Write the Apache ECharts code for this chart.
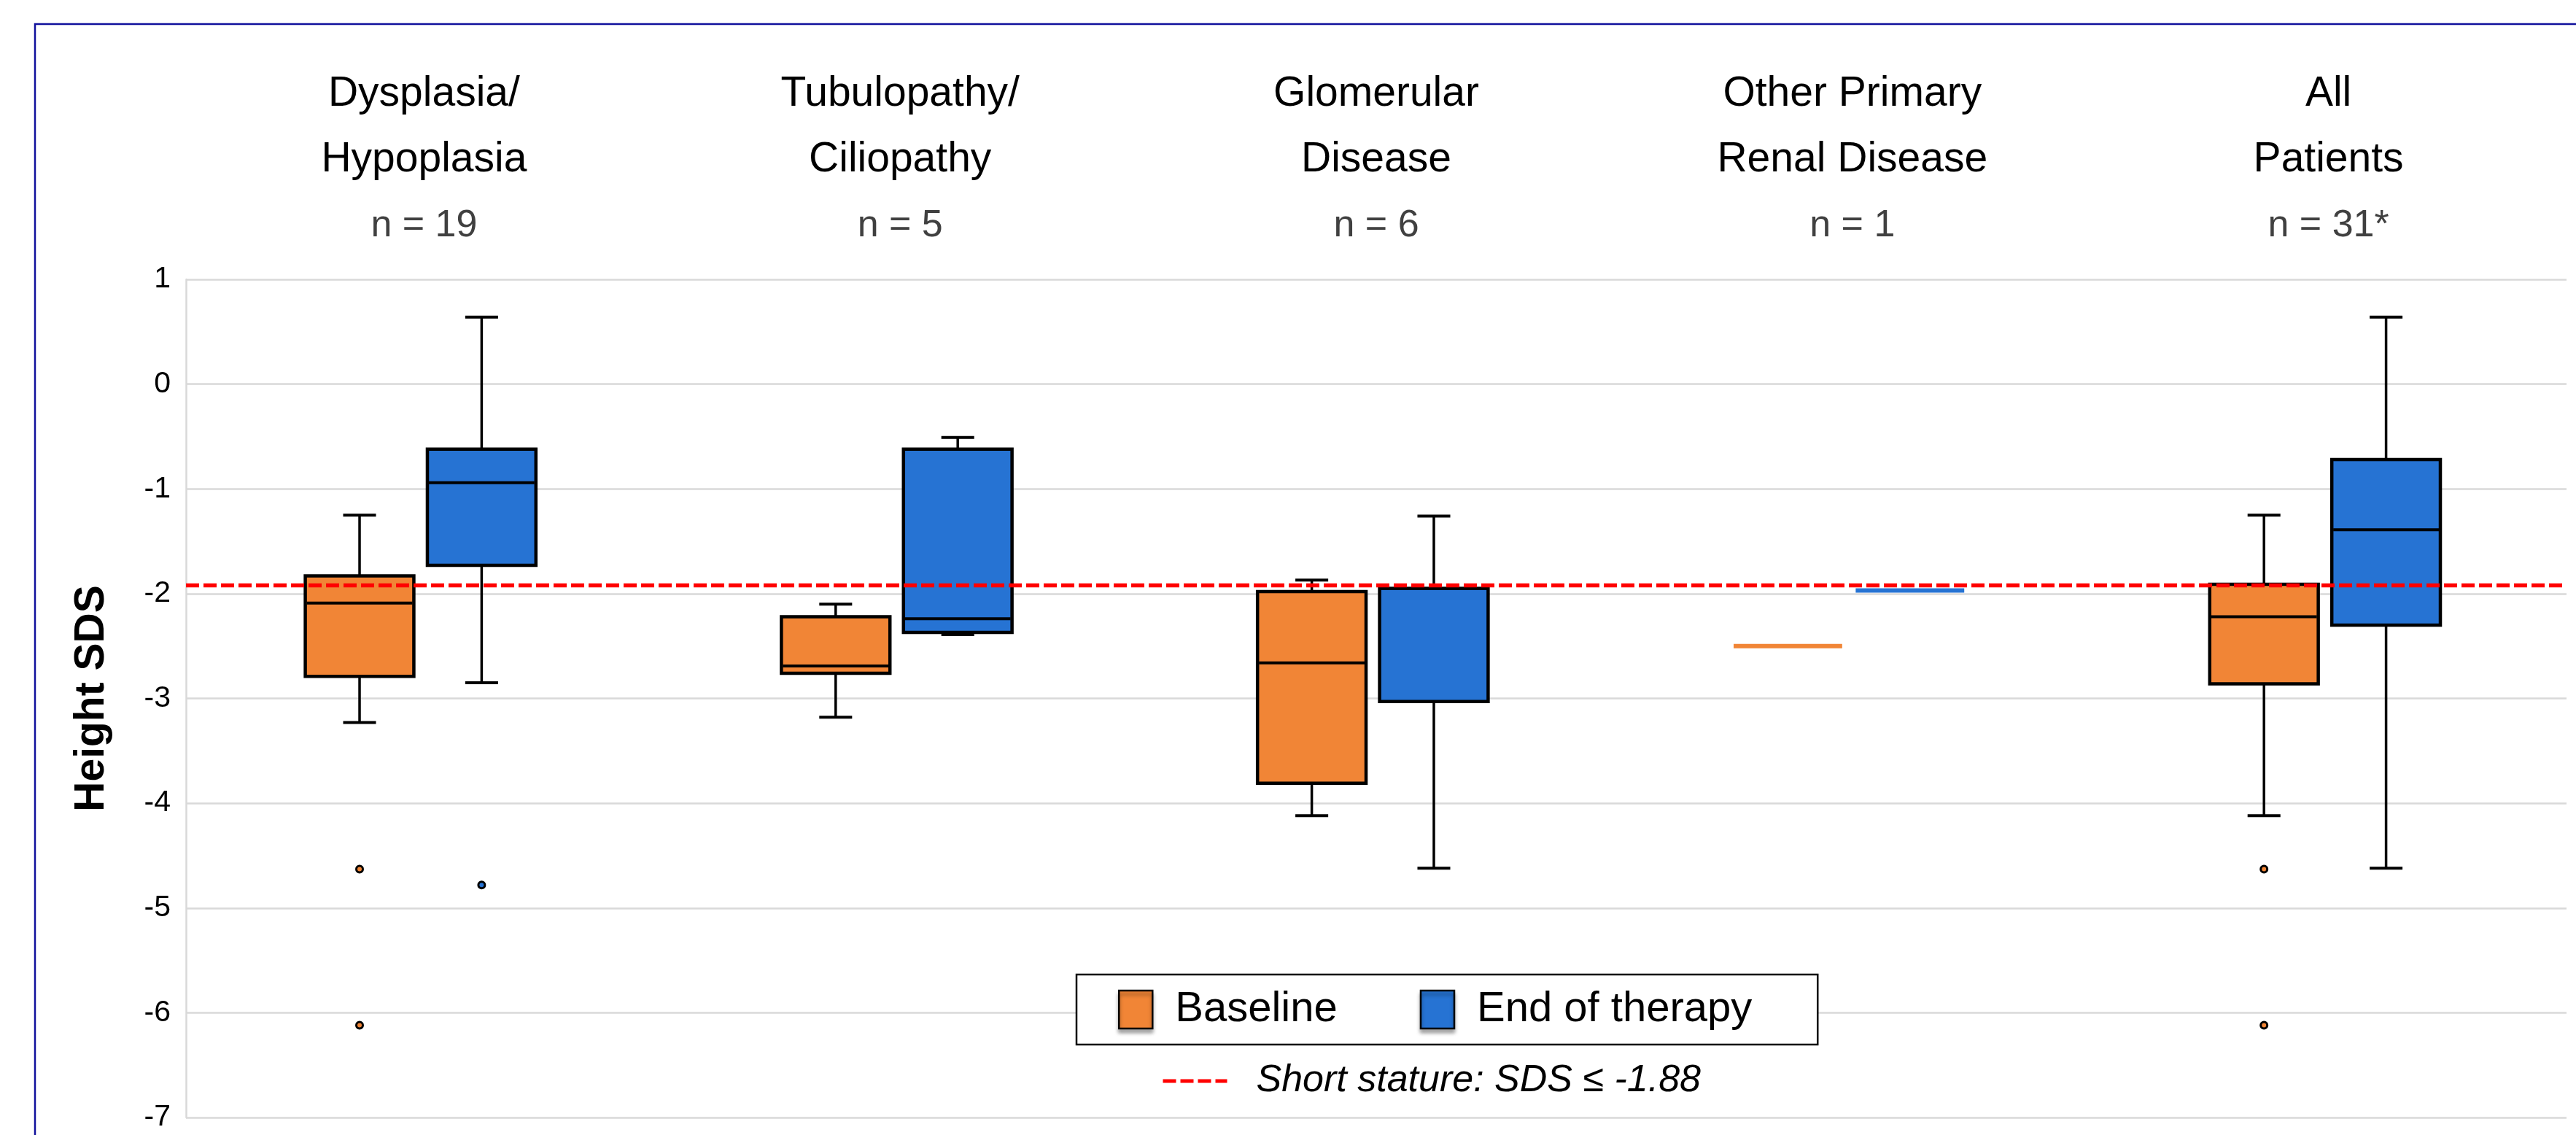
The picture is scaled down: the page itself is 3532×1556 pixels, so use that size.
<!DOCTYPE html>
<html>
<head>
<meta charset="utf-8">
<script src="https://cdn.jsdelivr.net/npm/echarts@6/dist/echarts.min.js"></script>
<style>
html,body{margin:0;padding:0;background:#fff;}
#chart{width:3532px;height:1556px;}
</style>
</head>
<body>
<div id="chart"></div>
<script>
// ---------- data ----------
const categoryNames = ['Dysplasia/\nHypoplasia', 'Tubulopathy/\nCiliopathy', 'Glomerular\nDisease', 'Other Primary\nRenal Disease', 'All\nPatients'];
const sampleSizes = ['n = 19', 'n = 5', 'n = 6', 'n = 1', 'n = 31*'];
// [min, Q1, median, Q3, max]
const baselineStats = [
  [-3.23, -2.79, -2.09, -1.83, -1.25],
  [-3.18, -2.76, -2.69, -2.22, -2.10],
  [-4.12, -3.81, -2.66, -1.98, -1.87],
  [-2.50, -2.50, -2.50, -2.50, -2.50],
  [-4.12, -2.86, -2.22, -1.91, -1.25]
];
const endStats = [
  [-2.85, -1.73, -0.94, -0.62, 0.64],
  [-2.39, -2.37, -2.24, -0.62, -0.51],
  [-4.62, -3.03, -1.95, -1.95, -1.26],
  [-1.97, -1.97, -1.97, -1.97, -1.97],
  [-4.62, -2.30, -1.39, -0.72, 0.64]
];
// [category index, value]
const baselineOutliers = [[0, -4.63], [0, -6.12], [4, -4.63], [4, -6.12]];
const endOutliers = [[0, -4.78]];
const shortStatureLine = -1.92;
const seriesNames = ['Baseline', 'End of therapy'];
const thresholdName = 'Short stature: SDS \u2264 -1.88';
const yMin = -7, yMax = 1, yStep = 1;

// ---------- style ----------
const FONT = '"Liberation Sans", Arial, Helvetica, sans-serif';
const ORANGE = '#F18536';
const BLUE = '#2673D3';
const BOX_W = 0.228, CAP_W = 0.069;
const OFF_BASE = -0.1354, OFF_END = 0.121;

function boxRender(offset, color) {
  return function (params, api) {
    const i = api.value(0);
    const band = api.size([1, 0])[0];
    const cx = api.coord([i, 0])[0] + offset * band;
    const bw = band * BOX_W, cw = band * CAP_W;
    const y = k => api.coord([i, api.value(k)])[1];
    const yLo = y(1), yQ1 = y(2), yMed = y(3), yQ3 = y(4), yHi = y(5);
    if (Math.abs(yQ1 - yQ3) < 1) {
      return {type: 'rect', shape: {x: cx - bw / 2, y: yMed - 3, width: bw, height: 6}, style: {fill: color}};
    }
    const wl = {stroke: '#000', lineWidth: 3.5};
    const cl = {stroke: '#000', lineWidth: 4};
    return {type: 'group', children: [
      {type: 'line', shape: {x1: cx, y1: yQ3, x2: cx, y2: yHi}, style: wl},
      {type: 'line', shape: {x1: cx, y1: yQ1, x2: cx, y2: yLo}, style: wl},
      {type: 'line', shape: {x1: cx - cw / 2, y1: yHi, x2: cx + cw / 2, y2: yHi}, style: cl},
      {type: 'line', shape: {x1: cx - cw / 2, y1: yLo, x2: cx + cw / 2, y2: yLo}, style: cl},
      {type: 'rect', shape: {x: cx - bw / 2, y: yQ3, width: bw, height: yQ1 - yQ3}, style: {fill: color, stroke: '#000', lineWidth: 4.5}},
      {type: 'line', shape: {x1: cx - bw / 2 + 2, y1: yMed, x2: cx + bw / 2 - 2, y2: yMed}, style: {stroke: '#000', lineWidth: 4}}
    ]};
  };
}
function outlierRender(offset, color) {
  return function (params, api) {
    const i = api.value(0);
    const band = api.size([1, 0])[0];
    const p = api.coord([i, api.value(1)]);
    return {type: 'circle', shape: {cx: p[0] + offset * band, cy: p[1], r: 4.5}, style: {fill: color, stroke: '#000', lineWidth: 3}};
  };
}

const chart = echarts.init(document.getElementById('chart'), null, {renderer: 'canvas'});
chart.setOption({
  backgroundColor: '#fff',
  animation: false,
  textStyle: {fontFamily: FONT},
  graphic: [{
    type: 'rect', z: 100, silent: true,
    shape: {x: 48, y: 33, width: 4000, height: 4000},
    style: {fill: 'none', stroke: '#10109C', lineWidth: 2.5}
  }],
  grid: {left: 255, right: 13, top: 383, bottom: 24},
  legend: [{
    data: seriesNames,
    left: 1476, top: 1336,
    orient: 'horizontal',
    padding: [19, 90, 19, 57],
    itemGap: 113,
    itemWidth: 46, itemHeight: 52,
    icon: 'rect',
    borderColor: '#000', borderWidth: 2.5,
    backgroundColor: '#fff',
    itemStyle: {borderColor: '#000', borderWidth: 2.5, shadowBlur: 5, shadowOffsetY: 5, shadowColor: 'rgba(0,0,0,0.35)'},
    textStyle: {fontFamily: FONT, fontSize: 58, color: '#000', lineHeight: 52, padding: [0, 0, 0, 26]},
    selectedMode: false
  }, {
    data: [thresholdName],
    left: 1592, top: 1452,
    padding: 0,
    itemWidth: 88, itemHeight: 20,
    itemStyle: {opacity: 0},
    lineStyle: {color: '#FF0000', width: 5, type: [18, 6]},
    textStyle: {fontFamily: FONT, fontSize: 52, fontStyle: 'italic', color: '#000', lineHeight: 60, padding: [0, 0, 0, 35]},
    selectedMode: false
  }],
  xAxis: {
    type: 'category',
    position: 'top',
    data: categoryNames,
    axisLine: {show: false},
    axisTick: {show: false},
    splitLine: {show: false},
    axisLabel: {
      interval: 0,
      margin: 27,
      formatter: function (value, idx) {
        return value.split('\n').map(s => '{a|' + s + '}').join('\n') + '\n{b|' + sampleSizes[idx] + '}';
      },
      rich: {
        a: {fontFamily: FONT, fontSize: 57, lineHeight: 90, color: '#000'},
        b: {fontFamily: FONT, fontSize: 52, lineHeight: 92, color: '#404040'}
      }
    }
  },
  yAxis: {
    type: 'value',
    min: yMin, max: yMax, interval: yStep,
    name: 'Height SDS',
    nameLocation: 'middle',
    nameGap: 100,
    nameRotate: 90,
    nameTextStyle: {fontFamily: FONT, fontSize: 57, fontWeight: 'bold', color: '#000'},
    axisLine: {show: true, lineStyle: {color: '#D9D9D9', width: 2.5}},
    axisTick: {show: false},
    splitLine: {show: true, lineStyle: {color: '#D9D9D9', width: 2.5}},
    axisLabel: {fontFamily: FONT, fontSize: 41, color: '#000', margin: 21}
  },
  series: [
    {
      name: seriesNames[0], type: 'custom', itemStyle: {color: ORANGE},
      renderItem: boxRender(OFF_BASE, ORANGE),
      encode: {x: 0, y: [1, 2, 3, 4, 5]},
      data: baselineStats.map((s, i) => [i].concat(s)), z: 3
    },
    {
      name: seriesNames[1], type: 'custom', itemStyle: {color: BLUE},
      renderItem: boxRender(OFF_END, BLUE),
      encode: {x: 0, y: [1, 2, 3, 4, 5]},
      data: endStats.map((s, i) => [i].concat(s)), z: 3
    },
    {
      name: seriesNames[0], type: 'custom', itemStyle: {color: ORANGE},
      renderItem: outlierRender(OFF_BASE, ORANGE),
      encode: {x: 0, y: 1},
      data: baselineOutliers, z: 3
    },
    {
      name: seriesNames[1], type: 'custom', itemStyle: {color: BLUE},
      renderItem: outlierRender(OFF_END, BLUE),
      encode: {x: 0, y: 1},
      data: endOutliers, z: 3
    },
    {
      name: thresholdName, type: 'line', symbol: 'none', z: 10,
      lineStyle: {color: '#FF0000', width: 5, type: [18, 6]},
      itemStyle: {color: '#FF0000'},
      data: [],
      markLine: {
        silent: true, symbol: 'none', animation: false,
        label: {show: false},
        lineStyle: {color: '#FF0000', width: 5.3, type: [18, 6]},
        data: [{yAxis: shortStatureLine}]
      }
    }
  ]
});
</script>
</body>
</html>
